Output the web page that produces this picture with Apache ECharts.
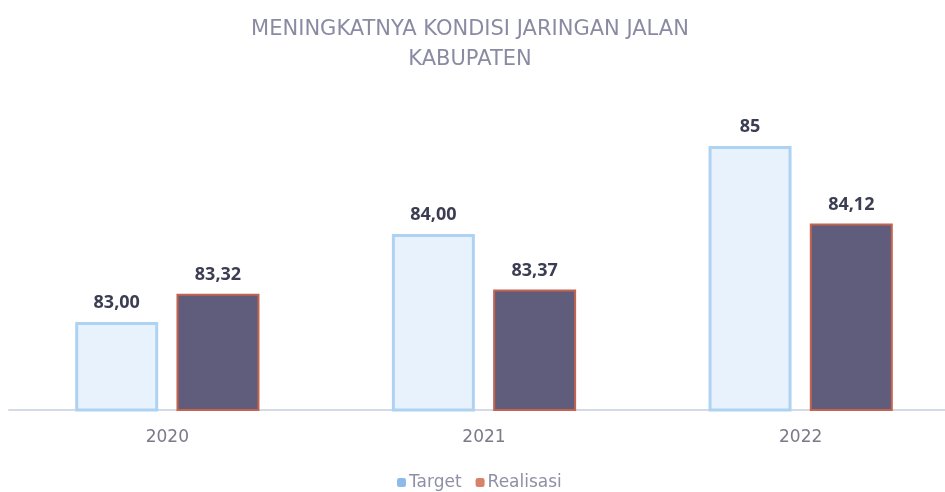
<!DOCTYPE html>
<html lang="id">
<head>
	<meta charset="UTF-8">
	<title>Kondisi Jaringan Jalan</title>
	<style>
		html, body { margin: 0; padding: 0; background: #fff; overflow: hidden; }
	</style>
</head>
<body>
	<!-- chart is a bit wider than the window: the source image was cropped on the right -->
	<div id="main" style="width: 960px;height: 492px"></div>
	<script src="https://cdn.jsdelivr.net/npm/echarts@6/dist/echarts.min.js"></script>
	<script>
		// data
		var years = ['2020', '2021', '2022'];
		var target = [83.00, 84.00, 85];
		var realisasi = [83.32, 83.37, 84.12];
		var targetLabels = ['83,00', '84,00', '85'];
		var realisasiLabels = ['83,32', '83,37', '84,12'];

		var myChart = echarts.init(document.getElementById('main'));

		var labelStyle = {
			show: true,
			position: 'top',
			distance: 10,
			color: '#3b3d52',
			fontSize: 18,
			fontWeight: 'bold',
			fontFamily: 'Open Sans'
		};

		myChart.setOption({
			animation: false,
			title: {
				text: 'MENINGKATNYA KONDISI JARINGAN JALAN\nKABUPATEN',
				left: 465,
				textAlign: 'center',
				top: 10,
				textStyle: {
					color: '#8a8ba3',
					fontSize: 21,
					fontWeight: 'normal',
					fontFamily: 'DejaVu Sans',
					lineHeight: 30
				}
			},
			legend: {
				data: [
					{ name: 'Target', itemStyle: { color: '#8dbbe9', borderWidth: 0 } },
					{ name: 'Realisasi', itemStyle: { color: '#d8826a', borderWidth: 0 } }
				],
				bottom: -4,
				left: 392,
				itemWidth: 9,
				itemHeight: 9,
				itemGap: 14,
				textStyle: { color: '#8f8fa8', fontSize: 17, fontFamily: 'DejaVu Sans', padding: [0, 0, 0, -2] }
			},
			grid: { left: 9, right: 1, top: 58, bottom: 82, containLabel: false },
			xAxis: {
				type: 'category',
				data: years,
				axisLine: { lineStyle: { color: '#d5dbe6', width: 2 } },
				axisTick: { show: false },
				axisLabel: { color: '#7a7a88', fontSize: 17, margin: 19, fontFamily: 'DejaVu Sans' }
			},
			yAxis: {
				type: 'value',
				min: 82,
				max: 86,
				show: false,
				splitLine: { show: false }
			},
			series: [{
				name: 'Target',
				type: 'bar',
				barWidth: 83,
				barGap: '22%',
				data: target,
				itemStyle: { color: '#e8f2fc', borderColor: '#aed3f2', borderWidth: 3 },
				label: Object.assign({}, labelStyle, {
					formatter: function (p) { return targetLabels[p.dataIndex]; }
				})
			}, {
				name: 'Realisasi',
				type: 'bar',
				barWidth: 83,
				data: realisasi,
				itemStyle: { color: '#5f5d7b', borderColor: '#c4634e', borderWidth: 2 },
				label: Object.assign({}, labelStyle, {
					formatter: function (p) { return realisasiLabels[p.dataIndex]; }
				})
			}]
		});
	</script>
</body>
</html>
